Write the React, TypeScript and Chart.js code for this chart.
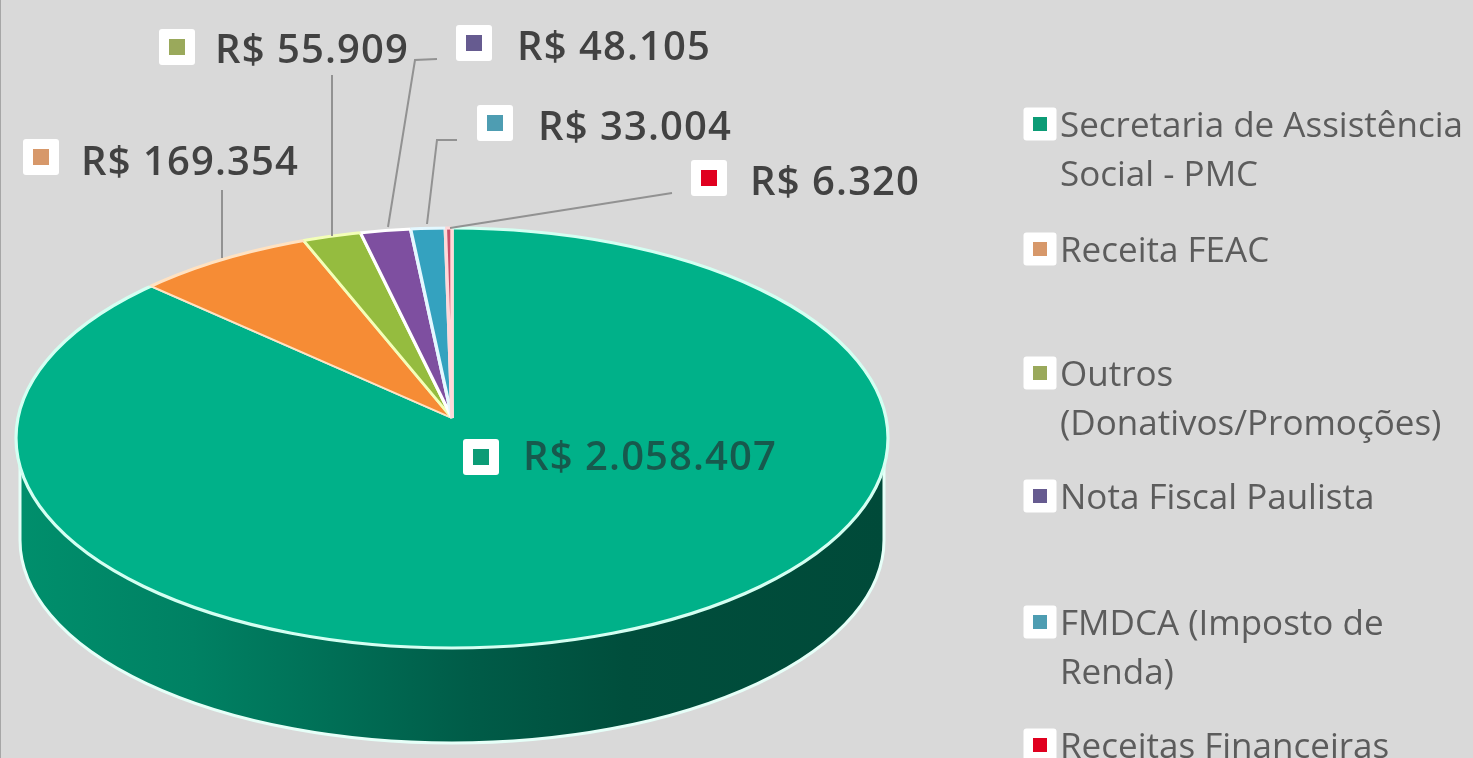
import React, { useEffect, useRef } from "react";
import { Chart, registerables } from "chart.js";

Chart.register(...registerables);

// ---- data ----
const categories = [
  ["Secretaria de Assistência", "Social - PMC"],
  ["Receita FEAC"],
  ["Outros", "(Donativos/Promoções)"],
  ["Nota Fiscal Paulista"],
  ["FMDCA (Imposto de", "Renda)"],
  ["Receitas Financeiras"],
];
const seriesValues = [2058407, 169354, 55909, 48105, 33004, 6320];

// ---- styles ----
const sliceColors = ["#00b189", "#f68c35", "#95bc3f", "#7e4fa0", "#34a2bf", "#c9506a"];
const sliceEdges = ["#d4fff2", "#ffe2c2", "#f3ffb8", "#ffffff", "#e4f8ff", "#ffd8d8"];
const markerColors = ["#0c9c76", "#d7986a", "#9aa95b", "#665b90", "#4e9db2", "#e0001f"];
const BG = "#d9d9d9";

// ---- layout (pixels on the page) ----
const ELLIPSE = { cx: 452, cy: 438, rx: 436, ry: 210 };
const BASE = { cx: 452, cy: 540, rx: 432, ry: 203 };
const APEX = { x: 452, y: 418, sx: 1.32, sy: 0.63 };
const labelBoxes = [
  { mx: 481, my: 457, tx: 523, ty: 459 },
  { mx: 41, my: 157, tx: 81, ty: 164 },
  { mx: 177, my: 47, tx: 215, ty: 52 },
  { mx: 474, my: 43, tx: 517, ty: 49 },
  { mx: 495, my: 123, tx: 538, ty: 129 },
  { mx: 709, my: 178, tx: 750, ty: 184 },
];
const leaders = [
  [],
  [[222, 190], [222, 258]],
  [[332, 75], [332, 236]],
  [[437, 59], [415, 60], [388, 227]],
  [[457, 140], [437, 140], [427, 224]],
  [[672, 193], [450, 228]],
];
const legendRows = [124, 249, 373, 496, 622, 745];
const LEGEND_LINE = 49;

function money(v: number) {
  return "R$ " + String(v).replace(/\B(?=(\d{3})+$)/g, ".");
}

function marker(ctx: CanvasRenderingContext2D, x: number, y: number, size: number, inner: number, color: string) {
  ctx.fillStyle = "#ffffff";
  ctx.beginPath();
  ctx.roundRect(x - size / 2, y - size / 2, size, size, 3);
  ctx.fill();
  ctx.fillStyle = color;
  ctx.fillRect(x - inner / 2, y - inner / 2, inner, inner);
}

const pie3d = {
  id: "pie3d",
  beforeDraw(chart: any) {
    const { ctx, width, height } = chart;
    ctx.save();
    ctx.fillStyle = BG;
    ctx.fillRect(0, 0, width, height);
    ctx.fillStyle = "#a6a6a6";
    ctx.fillRect(0, 0, 1, height);
    ctx.restore();
  },
  beforeDatasetsDraw(chart: any) {
    const { ctx } = chart;
    const arcs = chart.getDatasetMeta(0).data;

    // side wall
    const wall = ctx.createLinearGradient(BASE.cx - BASE.rx, 0, BASE.cx + BASE.rx, 0);
    wall.addColorStop(0, "#008f6c");
    wall.addColorStop(0.2, "#008163");
    wall.addColorStop(0.36, "#006f56");
    wall.addColorStop(0.52, "#005c48");
    wall.addColorStop(0.7, "#004e3c");
    wall.addColorStop(1, "#004a39");
    ctx.save();
    ctx.beginPath();
    ctx.moveTo(BASE.cx - BASE.rx, ELLIPSE.cy);
    ctx.lineTo(BASE.cx - BASE.rx, BASE.cy);
    ctx.ellipse(BASE.cx, BASE.cy, BASE.rx, BASE.ry, 0, Math.PI, 0, true);
    ctx.lineTo(BASE.cx + BASE.rx, ELLIPSE.cy);
    ctx.closePath();
    ctx.fillStyle = wall;
    ctx.fill();
    ctx.beginPath();
    ctx.moveTo(BASE.cx - BASE.rx, ELLIPSE.cy);
    ctx.lineTo(BASE.cx - BASE.rx, BASE.cy);
    ctx.ellipse(BASE.cx, BASE.cy, BASE.rx, BASE.ry, 0, Math.PI, 0, true);
    ctx.lineTo(BASE.cx + BASE.rx, ELLIPSE.cy);
    ctx.strokeStyle = "#e6fff8";
    ctx.lineWidth = 3;
    ctx.stroke();
    ctx.restore();

    // top face: the library's arcs, projected and clipped to the ellipse
    const project = (el: any) => {
      ctx.translate(APEX.x, APEX.y);
      ctx.scale(APEX.sx, APEX.sy);
      ctx.translate(-el.x, -el.y);
    };
    ctx.save();
    ctx.beginPath();
    ctx.ellipse(ELLIPSE.cx, ELLIPSE.cy, ELLIPSE.rx, ELLIPSE.ry, 0, 0, Math.PI * 2);
    ctx.clip();
    ctx.fillStyle = sliceColors[0];
    ctx.fill();
    arcs.forEach((el: any) => {
      ctx.save();
      project(el);
      el.draw(ctx);
      ctx.restore();
    });
    ctx.restore();

    // rim, coloured by the slice it belongs to
    arcs.forEach((el: any, i: number) => {
      ctx.save();
      ctx.save();
      project(el);
      ctx.beginPath();
      ctx.moveTo(el.x, el.y);
      ctx.arc(el.x, el.y, el.outerRadius * 1.2, el.startAngle, el.endAngle);
      ctx.closePath();
      ctx.restore();
      ctx.clip();
      ctx.beginPath();
      ctx.ellipse(ELLIPSE.cx, ELLIPSE.cy, ELLIPSE.rx, ELLIPSE.ry, 0, 0, Math.PI * 2);
      ctx.strokeStyle = sliceEdges[i];
      ctx.lineWidth = 3.2;
      ctx.stroke();
      ctx.restore();
    });
    return false;
  },
  afterDraw(chart: any) {
    const { ctx } = chart;
    ctx.save();
    // leader lines
    ctx.strokeStyle = "#929292";
    ctx.lineWidth = 2;
    leaders.forEach((pts) => {
      if (!pts.length) return;
      ctx.beginPath();
      pts.forEach((p, i) => (i ? ctx.lineTo(p[0], p[1]) : ctx.moveTo(p[0], p[1])));
      ctx.stroke();
    });
    // data labels
    ctx.textBaseline = "middle";
    ctx.textAlign = "left";
    ctx.font = "600 40px 'Open Sans'";
    (ctx as any).letterSpacing = "1.1px";
    seriesValues.forEach((v, i) => {
      const b = labelBoxes[i];
      marker(ctx, b.mx, b.my, 36, 16, markerColors[i]);
      ctx.fillStyle = i === 0 ? "#17594d" : "#424242";
      ctx.fillText(money(v), b.tx, b.ty);
    });
    // legend
    (ctx as any).letterSpacing = "0px";
    ctx.font = "400 35px 'Open Sans'";
    categories.forEach((lines, i) => {
      const y = legendRows[i];
      marker(ctx, 1040, y, 33, 14, markerColors[i]);
      ctx.fillStyle = "#5c5c5c";
      lines.forEach((t, k) => ctx.fillText(t, 1060, y + 3 + k * LEGEND_LINE));
    });
    ctx.restore();
  },
};

export default function App() {
  const ref = useRef<HTMLCanvasElement | null>(null);
  useEffect(() => {
    if (!ref.current) return;
    document.documentElement.style.background = BG;
    const chart = new Chart(ref.current, {
      type: "pie",
      data: {
        labels: categories.map((c) => c.join(" ")),
        datasets: [
          {
            data: seriesValues,
            backgroundColor: sliceColors,
            borderColor: sliceEdges,
            borderWidth: 2.6,
          },
        ],
      },
      options: {
        responsive: false,
        animation: false,
        layout: { padding: 0 },
        plugins: { legend: { display: false }, tooltip: { enabled: false }, title: { display: false } },
      },
      plugins: [pie3d],
    } as any);
    return () => chart.destroy();
  }, []);
  return (
    <div style={{ position: "absolute", left: 0, top: 0, width: 1473, height: 758, overflow: "hidden" }}>
      <canvas ref={ref} width={1473} height={758} style={{ display: "block", filter: "blur(0.7px)" }} />
    </div>
  );
}
